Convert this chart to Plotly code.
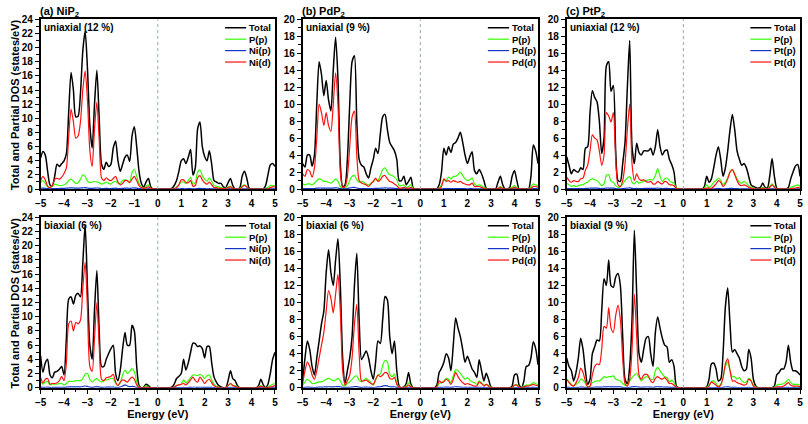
import numpy as np
import plotly.graph_objects as go

# Energy grid (eV), 0.1 eV sampling
ENERGY = np.round(np.linspace(-5, 5, 101), 1)

# ---------------- (a) NiP2 uniaxial (12 %) ----------------
NIP2_UNI_TOTAL = [4.4, 5.3, 4.8, 2.5, 0.6, 0.4, 1.8, 3.5, 3.2, 3.6,
                  4.0, 5.0, 11.0, 16.5, 14.0, 10.2, 10.3, 13.5, 19.5, 22.3,
                  17.0, 9.0, 5.8, 12.0, 16.8, 10.0, 3.5, 2.8, 3.8, 3.2,
                  3.5, 5.8, 6.8, 4.0, 2.5, 3.5, 4.5, 4.8, 3.9, 7.5,
                  8.8, 6.0, 2.5, 0.8, 0.3, 1.0, 1.5, 0.3, 0.0, 0.0,
                  0.0, 0.0, 0.0, 0.0, 0.0, 0.0, 0.1, 0.5, 1.2, 2.5,
                  4.0, 4.3, 3.6, 4.5, 5.6, 2.0, 3.0, 8.5, 9.5, 6.0,
                  4.6, 4.0, 5.4, 3.5, 1.2, 1.0, 0.8, 0.8, 0.3, 0.2,
                  0.9, 1.5, 0.5, 0.0, 0.0, 0.2, 1.8, 2.5, 1.5, 0.1,
                  0.0, 0.0, 0.0, 0.0, 0.0, 0.0, 0.5, 2.0, 3.4, 3.6,
                  3.2]
NIP2_UNI_PP = [0.9, 1.2, 0.8, 0.3, 0.2, 0.4, 0.7, 0.6, 0.5, 0.5,
               0.6, 0.8, 1.2, 1.4, 1.1, 0.8, 0.9, 1.4, 2.0, 1.8,
               1.1, 0.9, 1.0, 1.1, 1.0, 0.9, 0.7, 0.8, 1.0, 0.8,
               0.7, 1.0, 1.1, 0.8, 0.8, 1.2, 1.3, 1.2, 1.0, 2.3,
               2.8, 1.8, 0.8, 0.3, 0.1, 0.4, 0.6, 0.1, 0.0, 0.0,
               0.0, 0.0, 0.0, 0.0, 0.0, 0.0, 0.0, 0.1, 0.3, 0.6,
               1.0, 1.0, 0.8, 1.2, 1.7, 0.7, 0.9, 2.4, 2.7, 1.9,
               1.4, 1.1, 1.6, 1.1, 0.5, 0.4, 0.3, 0.2, 0.1, 0.1,
               0.3, 0.4, 0.1, 0.0, 0.0, 0.1, 0.4, 0.6, 0.3, 0.0,
               0.0, 0.0, 0.0, 0.0, 0.0, 0.0, 0.1, 0.2, 0.5, 0.5,
               0.5]
NIP2_UNI_MP = [0.10, 0.12, 0.10, 0.05, 0.03, 0.05, 0.08, 0.08, 0.08, 0.10,
               0.10, 0.12, 0.15, 0.18, 0.15, 0.12, 0.12, 0.15, 0.18, 0.20,
               0.15, 0.10, 0.10, 0.12, 0.15, 0.12, 0.08, 0.08, 0.10, 0.08,
               0.08, 0.10, 0.12, 0.08, 0.08, 0.10, 0.12, 0.12, 0.10, 0.15,
               0.18, 0.12, 0.05, 0.02, 0.01, 0.02, 0.03, 0.01, 0.0, 0.0,
               0.0, 0.0, 0.0, 0.0, 0.0, 0.0, 0.0, 0.01, 0.02, 0.03,
               0.05, 0.05, 0.04, 0.05, 0.06, 0.03, 0.03, 0.08, 0.09, 0.06,
               0.05, 0.04, 0.05, 0.04, 0.02, 0.02, 0.01, 0.01, 0.0, 0.0,
               0.02, 0.03, 0.01, 0.0, 0.0, 0.0, 0.02, 0.03, 0.02, 0.0,
               0.0, 0.0, 0.0, 0.0, 0.0, 0.0, 0.01, 0.02, 0.03, 0.03,
               0.03]
NIP2_UNI_MD = [1.2, 1.8, 1.3, 0.4, 0.2, 0.5, 1.4, 1.5, 1.4, 1.7,
               2.2, 3.0, 7.5, 11.3, 9.5, 7.2, 7.5, 9.5, 14.0, 16.7,
               12.5, 5.5, 3.2, 8.5, 12.3, 7.0, 1.6, 1.2, 1.6, 1.3,
               1.2, 1.5, 1.8, 1.0, 0.6, 0.8, 1.2, 1.2, 0.9, 1.4,
               1.8, 1.2, 0.5, 0.2, 0.1, 0.2, 0.3, 0.1, 0.0, 0.0,
               0.0, 0.0, 0.0, 0.0, 0.0, 0.0, 0.0, 0.0, 0.2, 0.6,
               1.3, 1.3, 0.9, 0.9, 1.2, 0.4, 0.5, 1.6, 1.9, 1.3,
               0.9, 0.7, 1.0, 0.6, 0.2, 0.2, 0.1, 0.1, 0.05, 0.05,
               0.2, 0.3, 0.1, 0.0, 0.0, 0.0, 0.3, 0.5, 0.3, 0.0,
               0.0, 0.0, 0.0, 0.0, 0.0, 0.0, 0.0, 0.0, 0.2, 0.3,
               0.3]

# ---------------- (b) PdP2 uniaxial (9 %) ----------------
PDP2_UNI_TOTAL = [3.0, 2.6, 4.0, 4.0, 2.7, 4.0, 10.0, 15.0, 13.5, 11.0,
                  12.8, 10.5, 9.2, 14.0, 17.9, 13.0, 3.0, 0.3, 0.5, 3.5,
                  10.0, 15.0, 15.7, 8.0, 3.5, 2.8, 2.6, 1.8, 1.3, 2.5,
                  3.5, 4.8, 4.2, 6.5, 8.5, 8.8, 7.0, 5.5, 5.0, 4.5,
                  3.5, 1.0, 1.0, 1.5, 0.5, 0.9, 1.4, 0.1, 0.0, 0.0,
                  0.0, 0.0, 0.0, 0.0, 0.0, 0.0, 0.0, 0.0, 0.5, 2.0,
                  4.8, 4.0, 5.0, 4.3, 5.3, 5.5, 6.0, 6.7, 5.5, 4.0,
                  3.0, 3.8, 4.4, 2.2, 1.8, 2.3, 1.8, 1.0, 0.1, 0.0,
                  0.0, 0.0, 0.0, 0.8, 1.5, 0.5, 0.0, 0.0, 0.2, 1.5,
                  2.2, 1.0, 0.0, 0.0, 0.0, 0.0, 0.0, 1.5, 5.2, 4.5,
                  3.0]
PDP2_UNI_PP = [0.6, 0.5, 0.6, 0.6, 0.5, 0.7, 1.0, 1.2, 1.1, 0.9,
               0.9, 0.8, 0.7, 0.9, 1.2, 0.9, 0.3, 0.1, 0.1, 0.4,
               1.0, 1.5, 1.6, 1.1, 0.8, 0.9, 0.8, 0.6, 0.5, 0.7,
               0.9, 1.1, 1.0, 1.6, 2.3, 2.5, 2.0, 1.7, 1.6, 1.4,
               1.1, 0.4, 0.4, 0.5, 0.2, 0.3, 0.5, 0.05, 0.0, 0.0,
               0.0, 0.0, 0.0, 0.0, 0.0, 0.0, 0.0, 0.0, 0.1, 0.5,
               1.1, 1.0, 1.4, 1.2, 1.5, 1.5, 1.7, 2.0, 1.6, 1.2,
               1.0, 1.1, 1.3, 0.6, 0.4, 0.5, 0.4, 0.2, 0.05, 0.0,
               0.0, 0.0, 0.0, 0.1, 0.3, 0.1, 0.0, 0.0, 0.05, 0.2,
               0.4, 0.2, 0.0, 0.0, 0.0, 0.0, 0.0, 0.3, 0.6, 0.5,
               0.4]
PDP2_UNI_MP = [0.05, 0.05, 0.06, 0.06, 0.05, 0.06, 0.10, 0.12, 0.12, 0.10,
               0.12, 0.10, 0.10, 0.12, 0.15, 0.12, 0.04, 0.02, 0.02, 0.06,
               0.12, 0.18, 0.20, 0.12, 0.06, 0.05, 0.05, 0.04, 0.04, 0.05,
               0.06, 0.08, 0.08, 0.10, 0.12, 0.14, 0.12, 0.10, 0.10, 0.08,
               0.06, 0.02, 0.02, 0.03, 0.01, 0.02, 0.03, 0.01, 0.0, 0.0,
               0.0, 0.0, 0.0, 0.0, 0.0, 0.0, 0.0, 0.0, 0.01, 0.02,
               0.04, 0.04, 0.05, 0.04, 0.05, 0.05, 0.05, 0.06, 0.05, 0.04,
               0.03, 0.04, 0.04, 0.02, 0.02, 0.02, 0.02, 0.01, 0.0, 0.0,
               0.0, 0.0, 0.0, 0.01, 0.02, 0.01, 0.0, 0.0, 0.0, 0.02,
               0.03, 0.01, 0.0, 0.0, 0.0, 0.0, 0.0, 0.02, 0.05, 0.04,
               0.03]
PDP2_UNI_MD = [1.8, 1.5, 2.3, 2.1, 1.4, 2.5, 6.0, 10.0, 9.0, 7.5,
               9.0, 7.5, 6.8, 10.0, 13.7, 10.0, 2.0, 0.2, 0.3, 1.5,
               5.0, 8.5, 9.2, 4.0, 1.0, 0.7, 0.6, 0.5, 0.3, 0.6,
               0.9, 1.3, 0.9, 1.1, 1.5, 1.6, 1.2, 0.9, 0.8, 0.6,
               0.4, 0.1, 0.1, 0.2, 0.1, 0.1, 0.2, 0.02, 0.0, 0.0,
               0.0, 0.0, 0.0, 0.0, 0.0, 0.0, 0.0, 0.0, 0.0, 0.3,
               1.2, 0.9, 1.0, 0.8, 1.0, 0.9, 0.8, 0.9, 0.7, 0.6,
               0.5, 0.5, 0.7, 0.3, 0.3, 0.3, 0.2, 0.1, 0.0, 0.0,
               0.0, 0.0, 0.0, 0.05, 0.2, 0.05, 0.0, 0.0, 0.0, 0.1,
               0.2, 0.1, 0.0, 0.0, 0.0, 0.0, 0.0, 0.1, 0.3, 0.3,
               0.2]

# ---------------- (c) PtP2 uniaxial (12 %) ----------------
PTP2_UNI_TOTAL = [3.8, 2.8, 1.8, 2.3, 2.1, 2.0, 2.5, 2.3, 4.8, 5.0,
                  9.0, 11.6, 10.8, 10.3, 8.0, 4.2, 6.0, 14.5, 15.0, 11.5,
                  12.2, 4.5, 1.0, 0.9, 3.0, 5.5, 12.0, 17.5, 5.0, 3.0,
                  5.4, 4.3, 4.0, 4.5, 4.5, 4.5, 4.8, 4.0, 5.0, 7.0,
                  5.0, 4.0, 4.5, 4.6, 3.5, 2.9, 2.0, 0.1, 0.0, 0.0,
                  0.0, 0.0, 0.0, 0.0, 0.0, 0.0, 0.0, 0.0, 0.0, 0.3,
                  1.5, 0.8, 1.2, 2.5, 4.0, 5.0, 3.5, 1.5, 2.5, 4.5,
                  7.0, 8.8, 7.0, 4.5, 3.5, 2.8, 3.0, 2.5, 1.5, 0.5,
                  0.3, 0.2, 0.1, 0.2, 0.7, 0.2, 0.1, 1.5, 3.6, 1.5,
                  0.1, 0.0, 0.0, 0.0, 0.0, 0.2, 1.2, 2.0, 2.7, 2.9,
                  1.5]
PTP2_UNI_PP = [0.7, 0.5, 0.3, 0.4, 0.3, 0.4, 0.5, 0.5, 0.7, 0.8,
               1.1, 1.2, 1.1, 1.0, 0.7, 0.4, 0.6, 1.6, 1.7, 0.9,
               0.8, 0.4, 0.2, 0.3, 0.6, 1.0, 1.3, 1.5, 0.8, 0.6,
               0.9, 0.7, 0.8, 0.9, 1.0, 1.1, 1.1, 1.1, 1.6, 2.4,
               1.5, 0.9, 1.2, 1.3, 1.0, 0.8, 0.7, 0.1, 0.0, 0.0,
               0.0, 0.0, 0.0, 0.0, 0.0, 0.0, 0.0, 0.0, 0.0, 0.1,
               0.5, 0.2, 0.4, 0.8, 1.0, 1.3, 1.0, 0.5, 0.8, 1.3,
               2.0, 2.3, 1.8, 1.2, 0.8, 0.7, 0.9, 0.7, 0.4, 0.2,
               0.1, 0.05, 0.0, 0.05, 0.2, 0.05, 0.0, 0.3, 0.6, 0.3,
               0.0, 0.0, 0.0, 0.0, 0.0, 0.05, 0.2, 0.3, 0.4, 0.5,
               0.3]
PTP2_UNI_MP = [0.06, 0.05, 0.04, 0.05, 0.04, 0.04, 0.05, 0.05, 0.07, 0.08,
               0.10, 0.12, 0.11, 0.10, 0.08, 0.05, 0.07, 0.12, 0.12, 0.10,
               0.10, 0.05, 0.02, 0.02, 0.05, 0.08, 0.12, 0.14, 0.07, 0.05,
               0.07, 0.06, 0.06, 0.07, 0.07, 0.08, 0.08, 0.07, 0.08, 0.12,
               0.08, 0.06, 0.07, 0.07, 0.05, 0.04, 0.04, 0.01, 0.0, 0.0,
               0.0, 0.0, 0.0, 0.0, 0.0, 0.0, 0.0, 0.0, 0.0, 0.01,
               0.02, 0.01, 0.02, 0.03, 0.04, 0.05, 0.04, 0.02, 0.03, 0.05,
               0.07, 0.08, 0.06, 0.04, 0.03, 0.03, 0.03, 0.03, 0.02, 0.01,
               0.0, 0.0, 0.0, 0.0, 0.01, 0.0, 0.0, 0.01, 0.03, 0.01,
               0.0, 0.0, 0.0, 0.0, 0.0, 0.0, 0.01, 0.02, 0.02, 0.03,
               0.02]
PTP2_UNI_MD = [1.4, 1.0, 0.8, 1.0, 0.9, 0.9, 1.2, 1.3, 2.2, 2.8,
               4.5, 6.4, 6.0, 5.8, 4.5, 2.8, 4.0, 9.0, 8.6, 7.9,
               9.0, 3.5, 0.5, 0.3, 1.0, 3.0, 7.0, 10.0, 3.0, 1.0,
               1.8, 1.2, 1.0, 1.1, 0.9, 0.8, 0.9, 0.6, 0.6, 0.9,
               0.7, 0.6, 0.9, 0.8, 0.5, 0.5, 0.4, 0.05, 0.0, 0.0,
               0.0, 0.0, 0.0, 0.0, 0.0, 0.0, 0.0, 0.0, 0.0, 0.05,
               0.1, 0.1, 0.1, 0.3, 0.6, 1.0, 0.8, 0.3, 0.6, 1.2,
               2.0, 2.3, 1.7, 1.0, 0.5, 0.4, 0.5, 0.4, 0.2, 0.1,
               0.05, 0.0, 0.0, 0.0, 0.1, 0.0, 0.0, 0.2, 0.5, 0.2,
               0.0, 0.0, 0.0, 0.0, 0.0, 0.0, 0.05, 0.1, 0.1, 0.2,
               0.1]

# ---------------- NiP2 biaxial (6 %) ----------------
NIP2_BI_TOTAL = [4.5, 2.2, 3.5, 4.0, 1.8, 1.4, 2.2, 2.3, 2.6, 3.0,
                 1.8, 7.0, 12.5, 12.8, 11.8, 13.0, 13.3, 12.8, 17.5, 23.0,
                 14.0, 6.0, 4.0, 11.0, 16.5, 8.0, 3.0, 3.0, 4.0, 4.8,
                 5.5, 6.0, 2.0, 1.0, 2.5, 5.5, 7.8, 6.0, 6.0, 8.8,
                 8.0, 3.0, 0.3, 0.0, 0.1, 0.5, 0.3, 0.0, 0.0, 0.0,
                 0.0, 0.0, 0.0, 0.0, 0.0, 0.0, 0.1, 0.5, 1.3, 1.6,
                 2.0, 4.0, 2.5, 3.5, 5.0, 6.3, 6.2, 5.8, 5.9, 5.5,
                 4.2, 5.8, 5.8, 3.5, 1.5, 0.8, 0.3, 0.1, 0.0, 0.0,
                 1.0, 2.4, 1.3, 1.0, 0.3, 0.0, 0.0, 0.0, 0.0, 0.0,
                 0.0, 0.0, 0.0, 0.3, 1.2, 0.4, 0.0, 0.5, 2.0, 4.0,
                 5.0]
NIP2_BI_PP = [0.9, 0.5, 0.8, 0.9, 0.4, 0.5, 0.5, 0.5, 0.6, 0.6,
              0.4, 0.6, 0.9, 0.9, 0.9, 1.0, 1.0, 1.0, 1.3, 1.9,
              2.0, 1.2, 0.8, 1.1, 1.3, 1.0, 0.8, 1.0, 1.1, 1.2,
              1.3, 1.3, 0.6, 0.3, 0.7, 1.8, 2.5, 2.0, 2.3, 2.7,
              2.3, 0.8, 0.1, 0.0, 0.05, 0.3, 0.1, 0.0, 0.0, 0.0,
              0.0, 0.0, 0.0, 0.0, 0.0, 0.0, 0.0, 0.1, 0.3, 0.4,
              0.5, 1.1, 0.7, 1.0, 1.4, 1.8, 1.8, 1.7, 1.9, 1.7,
              1.3, 1.7, 1.8, 1.1, 0.5, 0.2, 0.1, 0.0, 0.0, 0.0,
              0.3, 0.6, 0.3, 0.3, 0.1, 0.0, 0.0, 0.0, 0.0, 0.0,
              0.0, 0.0, 0.0, 0.1, 0.3, 0.1, 0.0, 0.1, 0.3, 0.5,
              0.6]
NIP2_BI_MP = [0.08, 0.05, 0.07, 0.08, 0.04, 0.04, 0.05, 0.05, 0.06, 0.07,
              0.05, 0.08, 0.12, 0.12, 0.12, 0.13, 0.13, 0.13, 0.18, 0.25,
              0.18, 0.08, 0.06, 0.10, 0.15, 0.10, 0.06, 0.07, 0.08, 0.09,
              0.10, 0.10, 0.05, 0.03, 0.10, 0.25, 0.40, 0.25, 0.15, 0.20,
              0.15, 0.05, 0.01, 0.0, 0.0, 0.02, 0.01, 0.0, 0.0, 0.0,
              0.0, 0.0, 0.0, 0.0, 0.0, 0.0, 0.0, 0.01, 0.02, 0.03,
              0.03, 0.05, 0.03, 0.04, 0.06, 0.07, 0.07, 0.06, 0.07, 0.06,
              0.05, 0.06, 0.06, 0.04, 0.02, 0.01, 0.0, 0.0, 0.0, 0.0,
              0.02, 0.04, 0.02, 0.02, 0.01, 0.0, 0.0, 0.0, 0.0, 0.0,
              0.0, 0.0, 0.0, 0.01, 0.02, 0.01, 0.0, 0.01, 0.03, 0.05,
              0.06]
NIP2_BI_MD = [1.4, 0.7, 1.2, 1.3, 0.5, 0.6, 0.6, 0.7, 1.0, 1.6,
              1.0, 3.5, 9.0, 9.4, 8.0, 9.2, 9.0, 9.5, 14.0, 17.7,
              11.0, 3.0, 2.3, 7.0, 12.0, 6.0, 1.2, 1.0, 1.4, 1.5,
              1.6, 1.9, 0.8, 0.3, 0.8, 1.1, 1.0, 0.8, 1.2, 1.5,
              1.2, 0.4, 0.05, 0.0, 0.0, 0.1, 0.05, 0.0, 0.0, 0.0,
              0.0, 0.0, 0.0, 0.0, 0.0, 0.0, 0.0, 0.1, 0.3, 0.4,
              0.5, 0.6, 0.4, 0.7, 1.1, 1.5, 1.0, 0.8, 1.5, 1.1,
              0.6, 1.0, 1.2, 0.7, 0.3, 0.1, 0.05, 0.0, 0.0, 0.0,
              0.3, 0.6, 0.3, 0.2, 0.05, 0.0, 0.0, 0.0, 0.0, 0.0,
              0.0, 0.0, 0.0, 0.1, 0.2, 0.1, 0.0, 0.05, 0.1, 0.2,
              0.3]

# ---------------- PdP2 biaxial (6 %) ----------------
PDP2_BI_TOTAL = [0.8, 3.5, 5.5, 4.5, 2.5, 1.5, 3.5, 5.5, 7.5, 9.0,
                 13.5, 16.2, 13.5, 12.0, 15.0, 17.5, 12.0, 3.5, 0.5, 2.0,
                 3.5, 6.0, 12.0, 15.8, 8.0, 3.3, 3.8, 4.3, 3.5, 2.0,
                 1.0, 3.0, 5.5, 5.2, 8.0, 10.7, 10.3, 6.0, 4.0, 5.5,
                 2.0, 0.2, 0.0, 0.1, 0.5, 1.8, 0.4, 0.0, 0.0, 0.0,
                 0.0, 0.0, 0.0, 0.0, 0.0, 0.0, 0.0, 0.3, 1.8, 2.3,
                 3.0, 4.0, 3.5, 2.0, 5.0, 8.2, 7.0, 6.0, 4.5, 3.0,
                 3.7, 3.0, 2.2, 1.8, 1.2, 3.3, 2.0, 0.8, 1.7, 1.0,
                 0.1, 0.0, 0.0, 0.0, 0.0, 0.0, 0.0, 0.0, 0.0, 0.2,
                 1.5, 1.6, 0.3, 0.0, 0.8, 2.5, 2.6, 3.5, 5.4, 4.6,
                 2.7]
PDP2_BI_PP = [0.3, 0.7, 1.0, 0.8, 0.5, 0.5, 0.6, 0.7, 0.7, 0.8,
              1.0, 1.1, 1.0, 0.8, 0.9, 1.1, 0.8, 0.3, 0.2, 0.5,
              0.7, 1.0, 1.3, 1.4, 0.9, 0.7, 0.9, 1.1, 0.9, 0.6,
              0.3, 0.9, 1.5, 1.6, 2.6, 3.2, 3.0, 1.6, 1.3, 1.6,
              0.5, 0.1, 0.0, 0.05, 0.2, 0.6, 0.2, 0.0, 0.0, 0.0,
              0.0, 0.0, 0.0, 0.0, 0.0, 0.0, 0.0, 0.1, 0.5, 0.6,
              0.8, 1.1, 1.0, 0.6, 1.4, 2.1, 2.0, 1.7, 1.3, 1.0,
              1.2, 0.9, 0.7, 0.6, 0.4, 0.8, 0.6, 0.3, 0.4, 0.3,
              0.05, 0.0, 0.0, 0.0, 0.0, 0.0, 0.0, 0.0, 0.0, 0.05,
              0.3, 0.4, 0.1, 0.0, 0.2, 0.3, 0.3, 0.4, 0.6, 0.5,
              0.3]
PDP2_BI_MP = [0.02, 0.05, 0.08, 0.06, 0.04, 0.03, 0.05, 0.07, 0.08, 0.09,
              0.10, 0.12, 0.11, 0.10, 0.12, 0.14, 0.10, 0.04, 0.02, 0.04,
              0.06, 0.08, 0.12, 0.14, 0.08, 0.05, 0.06, 0.07, 0.06, 0.04,
              0.03, 0.06, 0.10, 0.12, 0.20, 0.25, 0.22, 0.12, 0.10, 0.12,
              0.05, 0.01, 0.0, 0.01, 0.02, 0.05, 0.02, 0.0, 0.0, 0.0,
              0.0, 0.0, 0.0, 0.0, 0.0, 0.0, 0.0, 0.01, 0.05, 0.05,
              0.06, 0.08, 0.07, 0.04, 0.08, 0.12, 0.10, 0.08, 0.06, 0.05,
              0.06, 0.05, 0.04, 0.03, 0.02, 0.05, 0.04, 0.02, 0.03, 0.02,
              0.0, 0.0, 0.0, 0.0, 0.0, 0.0, 0.0, 0.0, 0.0, 0.0,
              0.02, 0.03, 0.01, 0.0, 0.01, 0.02, 0.02, 0.03, 0.04, 0.03,
              0.02]
PDP2_BI_MD = [0.5, 2.0, 3.0, 2.5, 1.5, 1.0, 2.0, 3.5, 5.0, 6.5,
              9.0, 11.4, 10.5, 8.8, 11.0, 13.3, 9.0, 2.0, 0.3, 0.8,
              1.5, 3.5, 7.5, 9.8, 4.0, 0.8, 0.8, 0.9, 0.7, 0.5,
              0.4, 1.0, 1.5, 1.3, 1.5, 1.8, 1.7, 1.1, 1.0, 1.2,
              0.4, 0.05, 0.0, 0.05, 0.1, 0.3, 0.1, 0.0, 0.0, 0.0,
              0.0, 0.0, 0.0, 0.0, 0.0, 0.0, 0.0, 0.1, 0.8, 0.6,
              0.7, 1.0, 0.8, 0.4, 1.0, 1.8, 1.3, 0.9, 0.6, 0.4,
              0.5, 0.4, 0.3, 0.2, 0.2, 0.7, 0.5, 0.2, 0.4, 0.2,
              0.02, 0.0, 0.0, 0.0, 0.0, 0.0, 0.0, 0.0, 0.0, 0.02,
              0.3, 0.3, 0.05, 0.0, 0.1, 0.2, 0.2, 0.3, 0.4, 0.3,
              0.2]

# ---------------- PtP2 biaxial (9 %) ----------------
PTP2_BI_TOTAL = [3.5, 2.5, 2.0, 0.8, 1.8, 3.5, 5.8, 4.5, 2.0, 0.4,
                 1.0, 4.0, 4.8, 5.6, 5.5, 9.0, 12.8, 12.0, 15.0, 12.0,
                 11.8, 13.0, 13.4, 12.0, 6.0, 1.0, 0.5, 2.5, 8.0, 18.5,
                 11.0, 4.0, 3.0, 4.5, 5.8, 6.0, 4.0, 2.5, 6.5, 8.3,
                 7.0, 5.8, 5.0, 4.8, 3.0, 3.3, 2.5, 0.2, 0.0, 0.0,
                 0.0, 0.0, 0.0, 0.0, 0.0, 0.0, 0.0, 0.0, 0.0, 0.0,
                 0.1, 1.0, 2.8, 2.9, 2.2, 0.8, 1.0, 4.0, 9.5, 11.7,
                 7.5, 4.2, 4.5, 4.0, 3.5, 2.5, 2.0, 2.2, 4.5, 3.5,
                 1.0, 0.2, 0.0, 0.0, 0.0, 0.0, 0.0, 0.0, 0.0, 0.2,
                 1.5, 1.8, 2.2, 2.2, 3.0, 5.0, 3.0, 2.0, 2.0, 1.8,
                 1.5]
PTP2_BI_PP = [1.0, 0.7, 0.4, 0.2, 0.4, 0.6, 1.0, 0.9, 0.5, 0.1,
              0.2, 0.6, 0.7, 0.8, 0.8, 1.0, 1.3, 1.2, 1.3, 1.3,
              1.4, 1.0, 0.9, 0.8, 0.5, 0.3, 0.3, 0.8, 1.2, 1.5,
              1.7, 1.2, 0.8, 1.1, 1.3, 1.2, 1.0, 1.0, 2.0, 2.4,
              2.0, 1.6, 1.3, 1.2, 0.7, 0.9, 0.6, 0.1, 0.0, 0.0,
              0.0, 0.0, 0.0, 0.0, 0.0, 0.0, 0.0, 0.0, 0.0, 0.0,
              0.05, 0.3, 0.7, 0.8, 0.5, 0.2, 0.4, 1.2, 2.5, 3.0,
              2.0, 1.3, 1.3, 1.0, 1.2, 0.8, 0.6, 0.7, 1.1, 0.9,
              0.3, 0.1, 0.0, 0.0, 0.0, 0.0, 0.0, 0.0, 0.0, 0.05,
              0.3, 0.4, 0.4, 0.5, 0.7, 1.0, 0.6, 0.4, 0.4, 0.4,
              0.3]
PTP2_BI_MP = [0.05, 0.04, 0.02, 0.01, 0.03, 0.05, 0.08, 0.07, 0.04, 0.01,
              0.02, 0.05, 0.06, 0.07, 0.07, 0.08, 0.10, 0.10, 0.12, 0.10,
              0.10, 0.10, 0.11, 0.10, 0.05, 0.02, 0.02, 0.05, 0.10, 0.14,
              0.12, 0.08, 0.06, 0.08, 0.09, 0.09, 0.07, 0.06, 0.10, 0.12,
              0.10, 0.09, 0.08, 0.08, 0.05, 0.05, 0.04, 0.01, 0.0, 0.0,
              0.0, 0.0, 0.0, 0.0, 0.0, 0.0, 0.0, 0.0, 0.0, 0.0,
              0.0, 0.01, 0.03, 0.03, 0.02, 0.01, 0.02, 0.05, 0.09, 0.10,
              0.07, 0.04, 0.04, 0.03, 0.03, 0.02, 0.02, 0.02, 0.04, 0.03,
              0.01, 0.0, 0.0, 0.0, 0.0, 0.0, 0.0, 0.0, 0.0, 0.0,
              0.01, 0.02, 0.02, 0.02, 0.03, 0.04, 0.02, 0.02, 0.02, 0.02,
              0.01]
PTP2_BI_MD = [1.0, 0.6, 0.3, 0.2, 0.6, 1.2, 2.3, 1.8, 0.8, 0.1,
              0.2, 1.5, 2.5, 2.8, 2.7, 4.5, 7.2, 7.0, 9.4, 7.0,
              6.5, 8.5, 9.7, 8.0, 3.5, 0.5, 0.2, 1.0, 4.5, 11.0,
              6.0, 1.5, 1.0, 1.5, 1.6, 1.4, 0.8, 0.6, 1.1, 1.3,
              1.1, 1.0, 1.2, 0.9, 0.5, 0.5, 0.3, 0.05, 0.0, 0.0,
              0.0, 0.0, 0.0, 0.0, 0.0, 0.0, 0.0, 0.0, 0.0, 0.0,
              0.0, 0.2, 0.7, 0.5, 0.3, 0.1, 0.3, 1.2, 2.8, 3.4,
              2.0, 0.8, 0.8, 0.6, 0.5, 0.4, 0.3, 0.4, 1.0, 0.8,
              0.2, 0.05, 0.0, 0.0, 0.0, 0.0, 0.0, 0.0, 0.0, 0.0,
              0.1, 0.1, 0.1, 0.2, 0.4, 0.6, 0.3, 0.2, 0.2, 0.2,
              0.1]

# ---------------- panel descriptions ----------------
PANEL_TITLES = ["(a) NiP<sub>2</sub>", "(b) PdP<sub>2</sub>", "(c) PtP<sub>2</sub>", "", "", ""]
STRAIN_LABELS = ["uniaxial (12 %)", "uniaxial (9 %)", "uniaxial (12 %)",
                 "biaxial (6 %)", "biaxial (6 %)", "biaxial (9 %)"]
METALS = ["Ni", "Pd", "Pt", "Ni", "Pd", "Pt"]
Y_MAX = [24, 20, 20, 24, 20, 20]
SERIES = [
    [NIP2_UNI_TOTAL, NIP2_UNI_PP, NIP2_UNI_MP, NIP2_UNI_MD],
    [PDP2_UNI_TOTAL, PDP2_UNI_PP, PDP2_UNI_MP, PDP2_UNI_MD],
    [PTP2_UNI_TOTAL, PTP2_UNI_PP, PTP2_UNI_MP, PTP2_UNI_MD],
    [NIP2_BI_TOTAL, NIP2_BI_PP, NIP2_BI_MP, NIP2_BI_MD],
    [PDP2_BI_TOTAL, PDP2_BI_PP, PDP2_BI_MP, PDP2_BI_MD],
    [PTP2_BI_TOTAL, PTP2_BI_PP, PTP2_BI_MP, PTP2_BI_MD],
]
COLORS = ["#000000", "#33ff00", "#1535c8", "#ff1111"]
WIDTHS = [1.5, 1.2, 1.2, 1.2]

for s in SERIES:
    for arr in s:
        assert len(arr) == len(ENERGY), len(arr)

W, H = 808, 424
X_DOMAINS = [(35 / W, 272 / W), (300 / W, 538 / W), (567 / W, 803 / W)]
Y_DOMAINS = [(1 - 188.5 / H, 1 - 14.7 / H), (1 - 392.0 / H, 1 - 217.5 / H)]

FONT = "Arial, Liberation Sans, sans-serif"
fig = go.Figure()
layout = dict(width=W, height=H, margin=dict(l=0, r=0, t=0, b=0),
              paper_bgcolor="white", plot_bgcolor="white", showlegend=False,
              font=dict(family=FONT, color="black", size=10))
shapes, annots = [], []

for i in range(6):
    n = "" if i == 0 else str(i + 1)
    col, row = i % 3, i // 3
    xa, ya = "x" + n, "y" + n
    names = ["Total", "P(p)", METALS[i] + "(p)", METALS[i] + "(d)"]
    for k in range(4):
        fig.add_trace(go.Scatter(x=ENERGY, y=SERIES[i][k], mode="lines", name=names[k],
                                 line=dict(color=COLORS[k], width=WIDTHS[k], shape="spline", smoothing=0.7),
                                 xaxis=xa, yaxis=ya, showlegend=False))
    axstyle = dict(showline=True, mirror=True, linecolor="black", linewidth=1.5,
                   ticks="outside", ticklen=4, tickwidth=1.2, tickcolor="black",
                   showgrid=False, zeroline=False,
                   tickfont=dict(family=FONT, size=10, weight="bold", color="black"))
    layout["xaxis" + n] = dict(axstyle, domain=X_DOMAINS[col], range=[-5, 5], anchor=ya,
                               tickmode="array", tickvals=list(range(-5, 6)),
                               minor=dict(dtick=0.5, ticks="outside", ticklen=2.5, tickcolor="black", tickwidth=1))
    if row == 1:
        layout["xaxis" + n]["title"] = dict(text="Energy (eV)", standoff=2,
                                            font=dict(family=FONT, size=11, weight="bold"))
    layout["yaxis" + n] = dict(axstyle, domain=Y_DOMAINS[row], range=[0, Y_MAX[i]], anchor=xa,
                               dtick=2, tick0=0,
                               minor=dict(dtick=1, ticks="outside", ticklen=2.5, tickcolor="black", tickwidth=1))
    # Fermi level marker
    shapes.append(dict(type="line", xref=xa, yref=ya + " domain", x0=0, x1=0, y0=0, y1=1,
                       line=dict(color="#8fa8b8", width=1, dash="dot")))
    ph = (Y_DOMAINS[row][1] - Y_DOMAINS[row][0]) * H
    # strain label
    annots.append(dict(xref=xa + " domain", yref=ya + " domain", x=0.005, y=1 - 8.5 / ph,
                       xanchor="left", yanchor="middle", showarrow=False, text=STRAIN_LABELS[i],
                       font=dict(family=FONT, size=10, weight="bold")))
    # legend
    for k in range(4):
        yk = 1 - (8.6 + 11.7 * k) / ph
        shapes.append(dict(type="line", xref=xa + " domain", yref=ya + " domain",
                           x0=0.787, x1=0.877, y0=yk, y1=yk,
                           line=dict(color=COLORS[k], width=WIDTHS[k])))
        annots.append(dict(xref=xa + " domain", yref=ya + " domain", x=0.88, y=yk,
                           xanchor="left", yanchor="middle", showarrow=False, text=names[k],
                           font=dict(family=FONT, size=9.5, weight="bold")))
    if PANEL_TITLES[i]:
        annots.append(dict(xref=xa + " domain", yref="paper", x=-0.01, y=1 - 7 / H,
                           xanchor="left", yanchor="middle", showarrow=False, text=PANEL_TITLES[i],
                           font=dict(family=FONT, size=11, weight="bold")))

for row in range(2):
    annots.append(dict(xref="paper", yref="paper", x=9 / W,
                       y=(Y_DOMAINS[row][0] + Y_DOMAINS[row][1]) / 2,
                       xanchor="center", yanchor="middle", textangle=-90, showarrow=False,
                       text="Total and Partial DOS (states/eV)",
                       font=dict(family=FONT, size=11, weight="bold")))

layout["shapes"] = shapes
layout["annotations"] = annots
fig.update_layout(**layout)
fig.write_html("out.html", config={"displayModeBar": False},
               post_script="document.body.style.margin='0px';document.body.style.overflow='hidden';")
